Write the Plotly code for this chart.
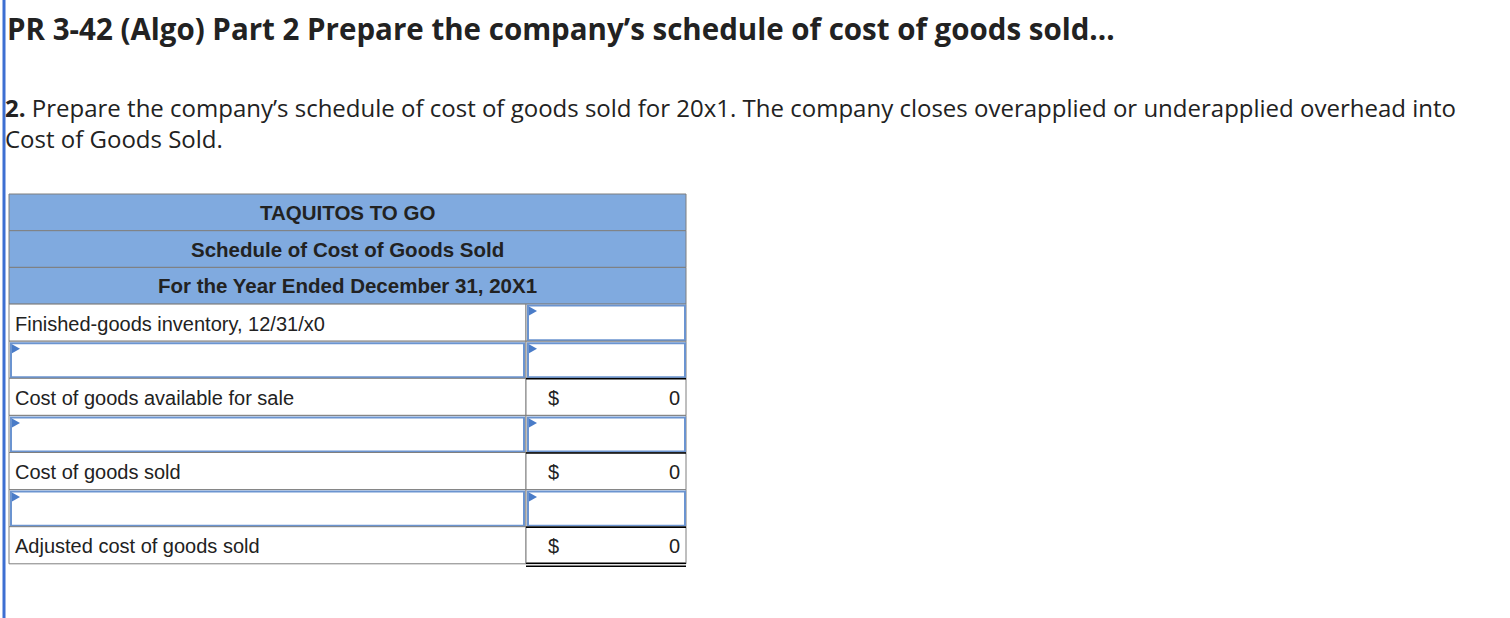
import plotly.graph_objects as go

# ---- content ----
title_text = "PR 3-42 (Algo) Part 2 Prepare the company\u2019s schedule of cost of goods sold..."
para_bold = "2."
para_line1 = " Prepare the company\u2019s schedule of cost of goods sold for 20x1. The company closes overapplied or underapplied overhead into"
para_line2 = "Cost of Goods Sold."

header_lines = ["TAQUITOS TO GO", "Schedule of Cost of Goods Sold", "For the Year Ended December 31, 20X1"]
row_labels = ["Finished-goods inventory, 12/31/x0", "", "Cost of goods available for sale", "",
              "Cost of goods sold", "", "Adjusted cost of goods sold"]
row_kinds = ["label_input", "input", "total", "input", "total", "input", "final"]
row_values = [None, None, 0, None, 0, None, 0]

# ---- layout constants ----
W, H = 1510, 618
X0, XS, X1 = 9, 526, 686
Y_TOP = 194
HDR_H = 36.7
ROW_H = 37.1
HDR_FILL = "#80aadf"
GRID = "#7f7f7f"
INPUT_BORDER = "#6b94d0"
TRI = "#4a7cc8"
TEXT = "#222222"
TABLE_FONT = "Liberation Sans"
PAGE_FONT = "Open Sans"

shapes = []
ann = []

# left page bar
shapes.append(dict(type="rect", x0=2.5, x1=5.5, y0=0, y1=H, fillcolor="#3d6fd2", line=dict(width=0)))

# title & paragraph
ann.append(dict(x=5, y=28, text="<b>" + title_text + "</b>", xanchor="left", yanchor="middle",
                font=dict(family=PAGE_FONT, size=29.5, color=TEXT)))
ann.append(dict(x=3, y=122.5, text="<b>" + para_bold + "</b>" + para_line1 + "<br>" + para_line2,
                xanchor="left", yanchor="middle", align="left",
                font=dict(family=PAGE_FONT, size=24, color=TEXT)))

# header
for i, t in enumerate(header_lines):
    y0 = Y_TOP + i * HDR_H
    y1 = y0 + HDR_H
    shapes.append(dict(type="rect", x0=X0, x1=X1, y0=y0, y1=y1, fillcolor=HDR_FILL,
                       line=dict(color=GRID, width=1)))
    ann.append(dict(x=(X0 + X1) / 2, y=(y0 + y1) / 2, text="<b>" + t + "</b>", xanchor="center",
                    yanchor="middle", font=dict(family=TABLE_FONT, size=20.5, color=TEXT)))

body_top = Y_TOP + 3 * HDR_H


def input_box(xa, xb, ya, yb):
    shapes.append(dict(type="rect", x0=xa, x1=xb, y0=ya, y1=yb, fillcolor="white",
                       line=dict(color=INPUT_BORDER, width=2)))
    shapes.append(dict(type="path", path=f"M {xa+1},{ya+1} L {xa+9},{ya+5.5} L {xa+1},{ya+10} Z",
                       fillcolor=TRI, line=dict(width=0)))


for i, (lab, kind, val) in enumerate(zip(row_labels, row_kinds, row_values)):
    y0 = body_top + i * ROW_H
    y1 = y0 + ROW_H
    ym = (y0 + y1) / 2
    shapes.append(dict(type="rect", x0=X0, x1=XS, y0=y0, y1=y1, fillcolor="white",
                       line=dict(color=GRID, width=1)))
    shapes.append(dict(type="rect", x0=XS, x1=X1, y0=y0, y1=y1, fillcolor="white",
                       line=dict(color=GRID, width=1)))
    if kind == "input":
        input_box(X0 + 2, XS - 2, y0 + 2, y1 - 1)
        input_box(XS + 2, X1 - 1, y0 + 2, y1 - 1)
    elif kind == "label_input":
        input_box(XS + 2, X1 - 1, y0 + 1.5, y1 - 1)
    else:
        shapes.append(dict(type="line", x0=XS, x1=X1, y0=y0 + 0.5, y1=y0 + 0.5,
                           line=dict(color="black", width=1.5)))
        if kind == "final":
            shapes.append(dict(type="line", x0=XS, x1=X1, y0=y1 - 0.5, y1=y1 - 0.5,
                               line=dict(color="white", width=2)))
            shapes.append(dict(type="line", x0=XS, x1=X1, y0=y1 - 0.5, y1=y1 - 0.5,
                               line=dict(color="black", width=1.5)))
            shapes.append(dict(type="line", x0=XS, x1=X1, y0=y1 + 2.5, y1=y1 + 2.5,
                               line=dict(color="black", width=1.5)))
        ann.append(dict(x=553, y=ym + 1, text="$", xanchor="center", yanchor="middle",
                        font=dict(family=TABLE_FONT, size=20, color=TEXT)))
        ann.append(dict(x=682, y=ym + 1, text=str(val), xanchor="right", yanchor="middle",
                        font=dict(family=TABLE_FONT, size=20, color=TEXT)))
    if lab:
        ann.append(dict(x=13, y=ym + 1, text=lab, xanchor="left", yanchor="middle",
                        font=dict(family=TABLE_FONT, size=20, color=TEXT)))

for a in ann:
    a.update(xref="x", yref="y", showarrow=False)

fig = go.Figure()
fig.add_trace(go.Scatter(x=[0, W], y=[0, H], mode="markers", marker=dict(opacity=0),
                         hoverinfo="skip", showlegend=False))
fig.update_layout(
    width=W, height=H, margin=dict(l=0, r=0, t=0, b=0),
    paper_bgcolor="white", plot_bgcolor="white",
    xaxis=dict(range=[0, W], visible=False, fixedrange=True),
    yaxis=dict(range=[H, 0], visible=False, fixedrange=True),
    shapes=shapes, annotations=ann, showlegend=False,
)
fig.write_html("out.html", config={"displayModeBar": False},
               post_script="document.body.style.margin='0';")
